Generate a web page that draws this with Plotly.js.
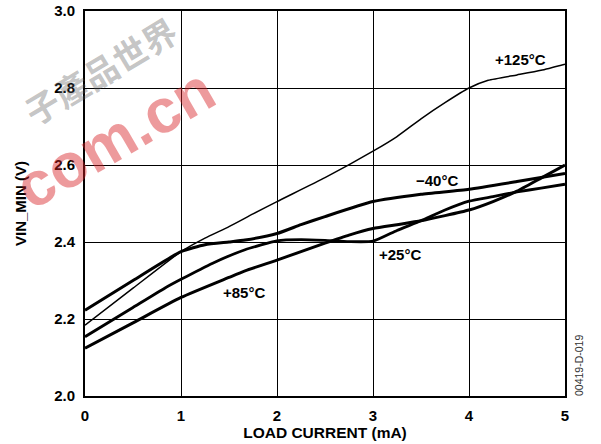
<!DOCTYPE html>
<html>
<head>
<meta charset="utf-8">
<script src="https://cdn.plot.ly/plotly-3.0.1.min.js"></script>
<style>html,body{margin:0;padding:0;background:#fff;}</style>
</head>
<body>
<div id="chart" style="width:601px;height:444px;"></div>
<script>
// LOAD CURRENT (mA) vs VIN_MIN (V)
const xM40 = [0, 0.5, 1, 1.25, 1.5, 1.667, 2, 2.25, 2.5, 3, 3.5, 4, 4.5, 5];
const yM40 = [2.223, 2.30, 2.375, 2.393, 2.40, 2.405, 2.422, 2.445, 2.466, 2.505, 2.524, 2.537, 2.557, 2.578];

const xP25 = [0, 0.5, 0.83, 1, 1.33, 1.667, 2, 2.25, 2.5, 2.75, 3, 3.25, 3.5, 3.75, 4, 4.25, 4.5, 4.75, 5];
const yP25 = [2.154, 2.23, 2.28, 2.303, 2.345, 2.38, 2.403, 2.406, 2.404, 2.401, 2.402, 2.43, 2.455, 2.483, 2.506, 2.518, 2.53, 2.54, 2.55];

const xP85 = [0, 0.5, 1, 1.5, 1.667, 2, 2.25, 2.5, 2.75, 3, 3.25, 3.5, 4, 4.25, 4.5, 4.75, 5];
const yP85 = [2.124, 2.19, 2.256, 2.308, 2.325, 2.353, 2.375, 2.397, 2.418, 2.435, 2.445, 2.455, 2.483, 2.505, 2.532, 2.566, 2.60];

const xP125 = [0, 0.5, 1, 1.25, 1.5, 1.75, 2, 2.5, 3, 3.25, 3.5, 3.75, 4, 4.2, 4.5, 4.75, 5];
const yP125 = [2.184, 2.28, 2.375, 2.41, 2.44, 2.473, 2.505, 2.567, 2.636, 2.674, 2.72, 2.762, 2.80, 2.82, 2.834, 2.846, 2.862];

const curveLabels = ["+125°C", "−40°C", "+25°C", "+85°C"];
const labelX = [4.54, 3.67, 3.28, 1.66];
const labelY = [2.873, 2.56, 2.368, 2.27];

const fontFam = "Liberation Sans, Arial, Helvetica, sans-serif";

function tr(x, y, w) {
  return {x: x, y: y, type: 'scatter', mode: 'lines',
    line: {color: '#000', width: w, shape: 'spline', smoothing: 0.5},
    hoverinfo: 'skip', showlegend: false};
}

const data = [
  tr(xP125, yP125, 1.5),
  tr(xM40, yM40, 3),
  tr(xP25, yP25, 2.8),
  tr(xP85, yP85, 3)
];

function px2paperX(px) { return (px - 85) / 480; }
function px2paperY(py) { return (396 - py) / 385; }

const annotations = curveLabels.map((t, i) => ({
  x: labelX[i], y: labelY[i], xref: 'x', yref: 'y', text: t, showarrow: false,
  font: {family: fontFam, size: 15, color: '#000', weight: 'bold'},
  xanchor: 'center', yanchor: 'middle'
}));

annotations.push({
  x: px2paperX(579), y: px2paperY(366), xref: 'paper', yref: 'paper',
  text: '00419-D-019', showarrow: false, textangle: -90,
  font: {family: fontFam, size: 10.5, color: '#333'},
  xanchor: 'center', yanchor: 'middle'
});

// watermark
annotations.push({
  x: px2paperX(100), y: px2paperY(70), xref: 'paper', yref: 'paper',
  text: '子產品世界', showarrow: false, textangle: -31,
  font: {family: 'Noto Sans CJK TC', size: 34, color: 'rgba(90,90,90,0.36)', weight: 'bold'},
  xanchor: 'center', yanchor: 'middle'
});
annotations.push({
  x: px2paperX(114), y: px2paperY(138), xref: 'paper', yref: 'paper',
  text: 'com.cn', showarrow: false, textangle: -30,
  font: {family: fontFam, size: 62, color: 'rgba(215,30,35,0.45)', weight: 'bold'},
  xanchor: 'center', yanchor: 'middle'
});

const axisCommon = {
  showgrid: true, gridcolor: '#000', gridwidth: 1,
  showline: true, mirror: true, linecolor: '#000', linewidth: 2,
  zeroline: false, ticks: '', fixedrange: true,
  tickfont: {family: fontFam, size: 15, color: '#000', weight: 'bold'}
};

const layout = {
  width: 601, height: 444,
  margin: {l: 85, r: 36, t: 11, b: 48},
  paper_bgcolor: '#fff', plot_bgcolor: '#fff',
  showlegend: false,
  xaxis: Object.assign({}, axisCommon, {
    range: [0, 5], dtick: 1, tick0: 0, ticklabelstandoff: 5,
    title: {text: 'LOAD CURRENT (mA)', standoff: 3,
      font: {family: fontFam, size: 15.5, color: '#000', weight: 'bold'}}
  }),
  yaxis: Object.assign({}, axisCommon, {
    range: [2.0, 3.0], dtick: 0.2, tick0: 2.0, tickformat: '.1f', ticklabelstandoff: 5,
    title: {text: 'VIN_MIN (V)', standoff: 24,
      font: {family: fontFam, size: 15, color: '#000', weight: 'bold'}}
  }),
  annotations: annotations
};

Plotly.newPlot('chart', data, layout, {displayModeBar: false, staticPlot: true});
</script>
</body>
</html>
